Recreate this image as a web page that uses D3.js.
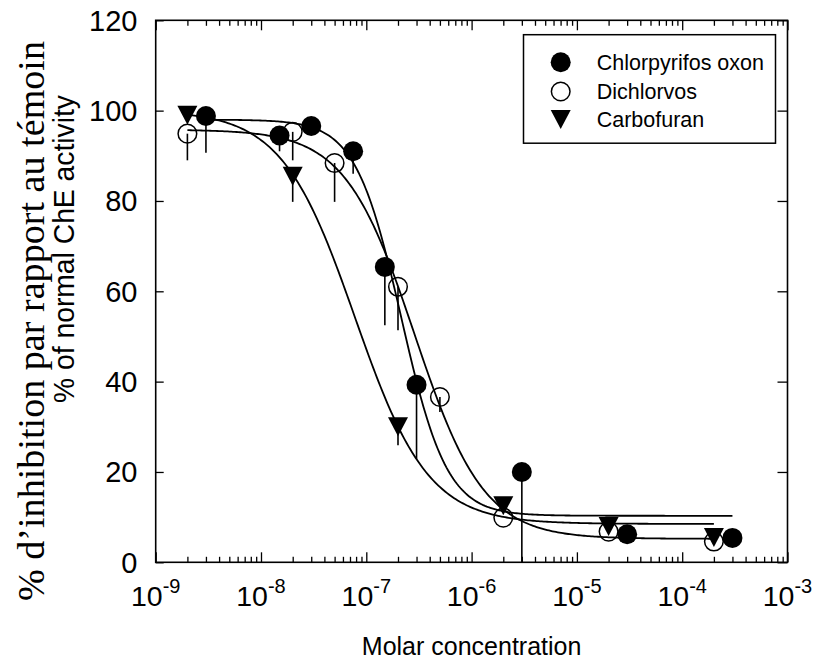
<!DOCTYPE html>
<html>
<head>
<meta charset="utf-8">
<script src="https://cdn.jsdelivr.net/npm/d3@7/dist/d3.min.js"></script>
<style>
  html, body { margin: 0; padding: 0; background: #fff; }
  svg { display: block; }
  text { font-family: "Liberation Sans", Arial, sans-serif; fill: #000; }
</style>
</head>
<body>
<svg id="chart" width="816" height="663"></svg>
<script>
// ---------- data ----------
const seriesNames = ["Chlorpyrifos oxon", "Dichlorvos", "Carbofuran"];

const concChlorpyrifos = [3e-9, 1.5e-8, 3e-8, 7.5e-8, 1.5e-7, 3e-7, 3e-6, 3e-5, 3e-4];
const valChlorpyrifos  = [98.8, 94.5, 96.6, 91.0, 65.4, 39.3, 20.0, 6.2, 5.4];
const errChlorpyrifos  = [8.1, 3.5, 0, 5.0, 12.9, 16.4, 20.0, 0, 0];

const concDichlorvos = [2e-9, 2e-8, 5e-8, 2e-7, 5e-7, 2e-6, 2e-5, 2e-4];
const valDichlorvos  = [94.9, 95.3, 88.4, 61.0, 36.6, 9.9, 6.8, 4.6];
const errDichlorvos  = [5.9, 6.3, 8.6, 9.6, 3.3, 0, 0, 0];

const concCarbofuran = [2e-9, 2e-8, 2e-7, 2e-6, 2e-5, 2e-4];
const valCarbofuran  = [99.0, 85.5, 30.0, 12.5, 7.9, 5.5];
const errCarbofuran  = [0, 5.7, 4.1, 0, 0, 0];

// fitted sigmoid (4-parameter logistic) parameters, one entry per series
const fitTop    = [98.0, 95.8, 100.0];
const fitBottom = [10.3, 5.2, 8.5];
const fitIC50   = [2.15e-7, 2.87e-7, 7.8e-8];
const fitHill   = [2.0, 1.318, 1.25];
const fitFrom   = [3e-9, 2e-9, 2e-9];
const fitTo     = [3e-4, 2e-4, 2e-4];

const xTickExponents = [-9, -8, -7, -6, -5, -4, -3];
const yTicks = [0, 20, 40, 60, 80, 100, 120];

// ---------- layout ----------
const svg = d3.select("#chart");
const L = 155.7, R = 787.5, T = 20.3, B = 562.3;

const x = d3.scaleLog().domain([1e-9, 1e-3]).range([L, R]);
const y = d3.scaleLinear().domain([0, 120]).range([B, T]);

const majors = xTickExponents.map(e => Math.pow(10, e));
const minors = x.ticks().filter(v => {
  const m = v / Math.pow(10, Math.floor(Math.log10(v) + 1e-9));
  return Math.abs(m - 1) > 1e-6;
});

// frame + ticks (inward)
function styleAxis(g) {
  g.select(".domain").remove();
  g.selectAll(".tick line").attr("stroke", "#000").attr("stroke-width", 1.3);
}
svg.append("g").attr("transform", `translate(0,${B})`)
  .call(d3.axisBottom(x).tickValues(majors).tickSize(-10).tickFormat(""))
  .call(styleAxis);
svg.append("g").attr("transform", `translate(0,${B})`)
  .call(d3.axisBottom(x).tickValues(minors).tickSize(-5.5).tickFormat(""))
  .call(styleAxis);
svg.append("g").attr("transform", `translate(0,${T})`)
  .call(d3.axisTop(x).tickValues(majors).tickSize(-10).tickFormat(""))
  .call(styleAxis);
svg.append("g").attr("transform", `translate(0,${T})`)
  .call(d3.axisTop(x).tickValues(minors).tickSize(-5.5).tickFormat(""))
  .call(styleAxis);
svg.append("g").attr("transform", `translate(${L},0)`)
  .call(d3.axisLeft(y).tickValues(yTicks).tickSize(-8).tickFormat(""))
  .call(styleAxis);
svg.append("g").attr("transform", `translate(${R},0)`)
  .call(d3.axisRight(y).tickValues(yTicks).tickSize(-10).tickFormat(""))
  .call(styleAxis);

svg.append("rect")
  .attr("x", L).attr("y", T).attr("width", R - L).attr("height", B - T)
  .attr("fill", "none").attr("stroke", "#000").attr("stroke-width", 1.6);

// y tick labels
svg.append("g").selectAll("text").data(yTicks).join("text")
  .attr("x", 137.5).attr("y", d => y(d)).attr("dy", "0.36em")
  .attr("text-anchor", "end").attr("font-size", 29)
  .text(d => d);

// x tick labels with superscript exponents
const xl = svg.append("g").selectAll("text").data(xTickExponents).join("text")
  .attr("x", d => x(Math.pow(10, d))).attr("y", 605.5)
  .attr("text-anchor", "middle").attr("font-size", 28.5);
xl.append("tspan").text("10");
xl.append("tspan").attr("font-size", 20).attr("dy", -12.5).text(d => String(d));

// axis titles
svg.append("text")
  .attr("x", (L + R) / 2).attr("y", 655)
  .attr("text-anchor", "middle").attr("font-size", 25)
  .text("Molar concentration");

svg.append("text")
  .attr("transform", "translate(44,321) rotate(-90)")
  .attr("text-anchor", "middle")
  .style("font-family", '"Liberation Serif", "Times New Roman", serif')
  .attr("font-size", 37)
  .attr("textLength", 560).attr("lengthAdjust", "spacingAndGlyphs")
  .text("% d’inhibition par rapport au témoin");

svg.append("text")
  .attr("transform", "translate(74,249) rotate(-90)")
  .attr("text-anchor", "middle").attr("font-size", 29)
  .attr("textLength", 308).attr("lengthAdjust", "spacingAndGlyphs")
  .text("% of normal ChE activity");

// ---------- fitted curves ----------
function logistic(i, c) {
  return fitBottom[i] + (fitTop[i] - fitBottom[i]) / (1 + Math.pow(c / fitIC50[i], fitHill[i]));
}
const line = d3.line().x(d => x(d[0])).y(d => y(d[1]));
const plot = svg.append("g");
seriesNames.forEach((n, i) => {
  const lo = Math.log10(fitFrom[i]), hi = Math.log10(fitTo[i]);
  const pts = d3.range(0, 301).map(k => {
    const c = Math.pow(10, lo + (hi - lo) * k / 300);
    return [c, logistic(i, c)];
  });
  plot.append("path").attr("d", line(pts))
    .attr("fill", "none").attr("stroke", "#000").attr("stroke-width", 1.8);
});

// ---------- error bars ----------
const all = [
  {conc: concChlorpyrifos, val: valChlorpyrifos, err: errChlorpyrifos},
  {conc: concDichlorvos, val: valDichlorvos, err: errDichlorvos},
  {conc: concCarbofuran, val: valCarbofuran, err: errCarbofuran}
];
all.forEach(s => {
  const d = s.conc.map((c, k) => ({c, v: s.val[k], e: s.err[k]})).filter(p => p.e > 0);
  plot.append("g").selectAll("line").data(d).join("line")
    .attr("x1", p => x(p.c)).attr("x2", p => x(p.c))
    .attr("y1", p => y(p.v)).attr("y2", p => y(p.v - p.e))
    .attr("stroke", "#000").attr("stroke-width", 1.6);
});

// ---------- markers ----------
const triPath = "M-10,-9.5L10,-9.5L0,9.5Z";
function drawMarker(g, kind) {
  if (kind === 0) g.append("circle").attr("r", 10).attr("fill", "#000");
  else if (kind === 1) g.append("circle").attr("r", 9.3).attr("fill", "none").attr("stroke", "#000").attr("stroke-width", 1.5);
  else g.append("path").attr("d", triPath).attr("fill", "#000");
}
[1, 2, 0].forEach(i => {
  const s = all[i];
  s.conc.forEach((c, k) => {
    const g = plot.append("g").attr("transform", `translate(${x(c)},${y(s.val[k])})`);
    drawMarker(g, i);
  });
});

// ---------- legend ----------
const lg = svg.append("g");
lg.append("rect").attr("x", 523.5).attr("y", 34.7).attr("width", 252).attr("height", 108.5)
  .attr("fill", "#fff").attr("stroke", "#000").attr("stroke-width", 1.5);
const rowY = [62.3, 91.5, 119.5];
seriesNames.forEach((n, i) => {
  const g = lg.append("g").attr("transform", `translate(560.7,${rowY[i]})`);
  drawMarker(g, i);
  lg.append("text").attr("x", 596.7).attr("y", rowY[i] + 7.8)
    .attr("font-size", 21.5).text(n);
});
</script>
</body>
</html>
